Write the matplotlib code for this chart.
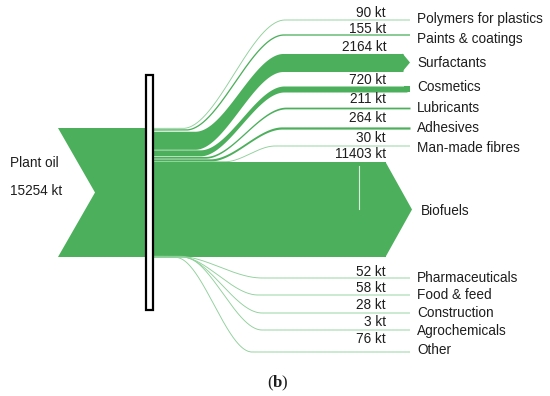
import numpy as np
import matplotlib
matplotlib.use("Agg")
import matplotlib.pyplot as plt
from matplotlib.patches import Polygon, Rectangle

plt.rcParams["mathtext.fontset"] = "custom"
plt.rcParams["mathtext.rm"] = "Liberation Serif"
plt.rcParams["mathtext.bf"] = "Liberation Serif:bold"

# ---------------- data ----------------
source_label = "Plant oil"
source_value = 15254
upper_names = ["Polymers for plastics", "Paints & coatings", "Surfactants", "Cosmetics",
               "Lubricants", "Adhesives", "Man-made fibres"]
upper_values = [90, 155, 2164, 720, 211, 264, 30]
main_name = "Biofuels"
main_value = 11403
lower_names = ["Pharmaceuticals", "Food & feed", "Construction", "Agrochemicals", "Other"]
lower_values = [52, 58, 28, 3, 76]

# ---------------- layout (pixel coordinates) ----------------
W, H = 550, 396
GREEN = "#4caf5b"
FONT = "Liberation Sans"
FS = 9.8
TXT = "#1e1e1e"

fig = plt.figure(figsize=(W / 100, H / 100), dpi=100)
ax = fig.add_axes([0, 0, 1, 1])
ax.set_xlim(0, W)
ax.set_ylim(H, 0)
ax.axis("off")

src_top, src_bot = 128.0, 257.0
scale = 95.0 / main_value          # px per kt
gap = 0.6                          # small white gap between upper bands
x_src, x_notch, x_split = 58.0, 95.0, 150.0

# source arrow body
ax.add_patch(Polygon([(x_src, src_top), (x_split, src_top), (x_split, src_bot),
                      (x_src, src_bot), (x_notch, (src_top + src_bot) / 2)],
                     closed=True, fc=GREEN, ec="none", zorder=2))


def smooth(t):
    t = np.clip(t, 0, 1)
    return t * t * (3 - 2 * t)


def flow(y_left_top, thick, y_right_center, x0, x1, x_start, x_end):
    xs = np.linspace(x_start, x_end, 400)
    yl = y_left_top + thick / 2
    yc = yl + (y_right_center - yl) * smooth((xs - x0) / (x1 - x0))
    if thick < 1.6:
        lw = max(thick, 0.9) * 0.72
        col = GREEN if thick > 1.0 else "#8fd09a"
        ax.plot(xs, yc, color=col, lw=lw, solid_capstyle="butt", zorder=3)
    else:
        ax.fill_between(xs, yc - thick / 2, yc + thick / 2, color=GREEN, lw=0, zorder=3)


# right-side targets
upper_right_y = [20, 35, 62.5, 89, 108, 128, 146]
upper_x0 = [183, 186, 195, 200, 205, 210, 225]
upper_x1 = [285, 284, 283, 284, 286, 282, 275]
upper_value_y = [13, 29, 47, 80, 99, 118, 138]
upper_label_y = [19, 39, 63, 87, 108, 128, 148]
x_line_end = 410.0

y = src_top
for i, (n, v) in enumerate(zip(upper_names, upper_values)):
    t = v * scale
    if n == "Surfactants":
        flow(y, t, upper_right_y[i], upper_x0[i], upper_x1[i], x_split - 4, 403)
        yc = upper_right_y[i]
        ax.add_patch(Polygon([(402.5, yc - t / 2), (410, yc), (402.5, yc + t / 2)],
                             closed=True, fc=GREEN, ec="none", zorder=3))
    elif n == "Cosmetics":
        flow(y, t, upper_right_y[i], upper_x0[i], upper_x1[i], x_split - 4, 407)
        ax.add_patch(Rectangle((404, upper_right_y[i] - t / 2), 6, t, fc=GREEN, ec="none",
                               zorder=3))
    else:
        flow(y, t, upper_right_y[i], upper_x0[i], upper_x1[i], x_split, x_line_end)
    ax.text(386, upper_value_y[i], f"{v} kt", ha="right", va="center", fontsize=FS,
            family=FONT, color=TXT, zorder=5)
    ax.text(417, upper_label_y[i], n, ha="left", va="center", fontsize=FS,
            family=FONT, color=TXT, zorder=5)
    y += t + gap

# main flow (biofuels)
y = src_bot - main_value * scale
t = main_value * scale
bio_center = y + t / 2
flow(y, t, bio_center, 200, 330, x_split - 4, 386)
ax.add_patch(Polygon([(385.5, bio_center - t / 2), (412, bio_center), (385.5, bio_center + t / 2)],
                     closed=True, fc=GREEN, ec="none", zorder=3))
ax.plot([359, 359], [166, 209], color="#d8eedb", lw=0.8, zorder=4)
ax.text(386, 154, f"{main_value} kt", ha="right", va="center", fontsize=FS,
        family=FONT, color=TXT, zorder=5)
ax.text(421, 211, main_name, ha="left", va="center", fontsize=FS,
        family=FONT, color=TXT, zorder=5)
y = src_bot - 1.0

# lower flows
lower_right_y = [278, 295, 313, 330, 352]
lower_x0 = [178, 180, 182, 184, 176]
lower_x1 = [262, 258, 262, 262, 252]
lower_value_y = [272, 288, 305, 322, 339]
lower_label_y = [278, 295, 313, 331, 350]
for i, (n, v) in enumerate(zip(lower_names, lower_values)):
    t = v * scale
    flow(y, t, lower_right_y[i], lower_x0[i], lower_x1[i], x_split, x_line_end)
    ax.text(386, lower_value_y[i], f"{v} kt", ha="right", va="center", fontsize=FS,
            family=FONT, color=TXT, zorder=5)
    ax.text(417, lower_label_y[i], n, ha="left", va="center", fontsize=FS,
            family=FONT, color=TXT, zorder=5)
    y += t

# source labels
ax.text(10, 163, source_label, ha="left", va="center", fontsize=FS, family=FONT, color=TXT)
ax.text(10, 191, f"{source_value} kt", ha="left", va="center", fontsize=FS, family=FONT,
        color=TXT)

# vertical bar
ax.add_patch(Rectangle((145.5, 75), 7, 235, fc="white", ec="black", lw=1.6, zorder=6))

# caption
ax.text(278, 383, r"$(\mathbf{b})$", ha="center", va="center", fontsize=12,
        family="Liberation Serif", color=TXT)

fig.savefig("out.png", dpi=100)
